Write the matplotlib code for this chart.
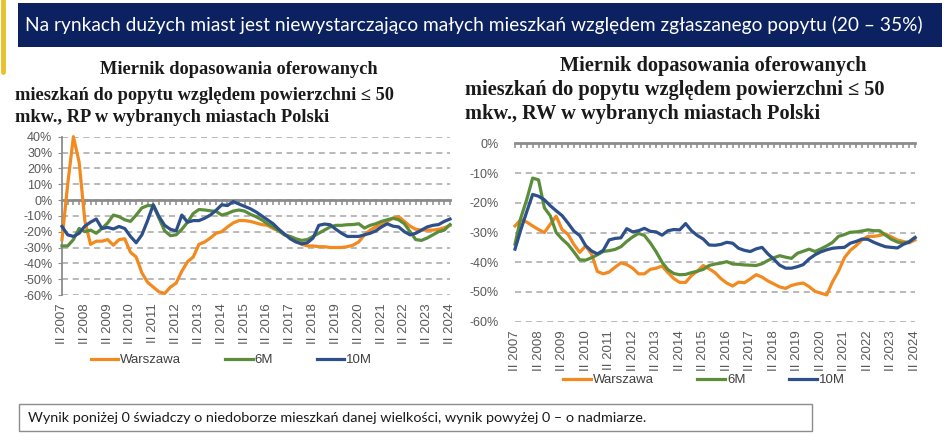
import matplotlib
matplotlib.use("Agg")
import matplotlib.pyplot as plt
from matplotlib.patches import Rectangle, FancyBboxPatch
from matplotlib.lines import Line2D
import numpy as np

W, H = 948, 445

# ---------------- data ----------------
years = list(range(2007, 2025))
tick_labels = [f"II {y}" for y in years]
series_names = ["Warszawa", "6M", "10M"]

# left chart: RP (quarterly, II 2007 .. II 2024), in %
rp_warszawa = [-25, 10, 40, 24, -13, -28, -26, -26, -25, -28.5,
               -25, -24.5, -33, -36, -46, -52, -55, -58, -59, -55,
               -52.5, -45, -39, -36, -28, -26.5, -24, -21, -20, -17,
               -14.5, -13, -13, -13.5, -14.5, -15.5, -16, -18, -19.5, -22,
               -23.5, -25, -28, -29, -29, -29.5, -29.5, -30, -30, -30,
               -29.5, -28.5, -26.5, -22, -19, -17, -15.5, -13.5, -11.5, -10.5,
               -13.5, -16.5, -18.5, -19, -19, -19, -18.5, -17.5, -16]
rp_6m = [-29, -29, -25, -18, -20, -19, -21, -18, -14.5, -9.5,
         -10.5, -12.5, -13.5, -9.5, -5, -3.5, -3.5, -11.5, -19.5, -22.5,
         -22, -18.5, -14, -8.5, -6, -6.3, -6.8, -7.2, -9.5, -8.5,
         -7, -6.3, -7, -9, -10.5, -12.5, -15, -17, -19.5, -22,
         -23, -24.5, -25.5, -25, -23, -21, -19, -17, -16, -16,
         -15.6, -15.5, -15, -17.7, -16, -15, -13.5, -12.5, -11.5, -12.5,
         -15, -20, -25, -25.5, -24, -22, -20, -19, -15.5]
rp_10m = [-16.7, -22, -23, -21, -16.5, -14, -12, -18, -17.3, -18.3,
          -16.7, -18, -23, -27, -22, -13, -3, -10.5, -16, -18.5,
          -19.5, -9.5, -14, -13, -13, -11.5, -9.5, -6.5, -3, -3.5,
          -1, -2.5, -4, -5.5, -7.5, -10, -12.5, -15, -18.5, -21.5,
          -24.5, -26.5, -27.7, -27, -24, -16, -15.2, -15.6, -18.5, -21,
          -23, -23, -23, -22, -21, -19.5, -17, -15, -16.5, -17,
          -20, -22, -21, -19, -17, -16, -15.5, -13.5, -12]

# right chart: RW, in %
rw_warszawa = [-27.8, -25.6, -26.5, -27.8, -29, -30, -27.2, -24.5, -29, -30.6,
               -34, -36.7, -34.5, -37.2, -43.1, -43.9, -43.3, -41.7, -40.2, -40.8,
               -42, -43.9, -43.9, -42.4, -42, -41.3, -43.5, -45.5, -46.8, -46.8,
               -44.5, -43, -41.1, -42.2, -43.5, -45.5, -47, -48, -46.7, -46.9,
               -45.6, -44.2, -45, -46.3, -47.3, -48.3, -48.8, -47.8, -47.3, -47,
               -48.2, -49.8, -50.4, -51, -46.5, -43, -38.5, -36, -34.4, -32.5,
               -31.3, -31.3, -31, -30.5, -31.5, -32.5, -33, -33.5, -32.5]
rw_6m = [-33.9, -25, -18.9, -11.7, -12.3, -21.7, -24.4, -30, -32.2, -34,
         -36.5, -39.2, -39.3, -38.5, -37.5, -36.4, -36.1, -35.7, -34.8, -33,
         -31.5, -30.3, -31, -33.5, -36.5, -40, -42.5, -43.8, -44.2, -44.1,
         -43.5, -43, -42.4, -41.1, -40.6, -40.3, -39.8, -40.6, -40.7, -40.9,
         -41, -41.1, -40.5, -39.4, -38.5, -37.8, -38.3, -38.7, -37, -36.3,
         -35.6, -36.4, -35.5, -34.5, -33.3, -31.3, -30.7, -29.9, -29.8, -29.5,
         -29.1, -29.4, -29.4, -30.9, -32.3, -33.2, -33.6, -33.1, -31.7]
rw_10m = [-35.6, -29, -23, -17.2, -17.8, -19, -21, -22.7, -24.3, -26.8,
          -29.5, -31, -34.4, -36.2, -37.2, -36, -32.5, -32, -31.8, -28.7,
          -29.8, -29.4, -28.6, -29.6, -29.8, -30.9, -29.4, -29, -29.1, -27,
          -29.4, -31, -32.2, -34.2, -34.3, -34, -33.3, -33.6, -35.3, -36,
          -36.4, -35.5, -35, -37.2, -39, -41, -42, -42, -41.5, -40.8,
          -38.9, -37.5, -36.5, -35.8, -35.3, -35.1, -35, -33.6, -33, -32.2,
          -32.3, -33.3, -34.1, -34.8, -35, -35.2, -34, -33.2, -31.7]

rp_yticks = list(range(-60, 41, 10))
rw_yticks = list(range(-60, 1, 10))

# ---------------- style ----------------
colors = ["#F28A1F", "#5C8D3B", "#2D4F8A"]
GRID = "#A6A6A6"
AXC = "#8C8C8C"
TXT = "#595959"
LW = 2.3

plt.rcParams["font.family"] = ["Liberation Sans", "DejaVu Sans"]

fig = plt.figure(figsize=(W / 100, H / 100), dpi=100)
fig.patch.set_facecolor("white")
renderer = fig.canvas.get_renderer()


def fx(x):
    return x / W


def fy(y):
    return 1 - y / H


def make_ax(x0, x1, ytop, ybot):
    return fig.add_axes([fx(x0), fy(ybot), fx(x1) - fx(x0), fy(ytop) - fy(ybot)])


def style_ax(ax, data, yticks, left_spine, zero_pos):
    n = len(data[0])
    x = np.arange(n)
    ax.set_xlim(0, n - 1)
    ax.set_ylim(yticks[0], yticks[-1])
    ax.set_yticks(yticks)
    ax.set_yticklabels([f"{v}%" for v in yticks])
    ax.set_xticks(np.arange(0, n, 4))
    ax.set_xticklabels(tick_labels, rotation=90)
    ax.tick_params(axis="x", length=0, pad=6, labelsize=9.5, labelcolor=TXT)
    ax.tick_params(axis="y", labelsize=9, labelcolor=TXT, color=AXC,
                   length=3 if left_spine else 0, pad=4 if left_spine else 12)
    for s in ["top", "right", "bottom"]:
        ax.spines[s].set_visible(False)
    ax.spines["left"].set_visible(left_spine)
    ax.spines["left"].set_color(AXC)
    ax.spines["left"].set_linewidth(1.3)
    ax.yaxis.grid(True, linestyle=(0, (4, 3)), color=GRID, linewidth=1.1)
    ax.set_axisbelow(True)
    ax.patch.set_alpha(0)
    # category axis crossing at 0 with quarterly tick marks
    sec = ax.secondary_xaxis(zero_pos)
    sec.set_xticks(x)
    sec.set_xticklabels([])
    sec.tick_params(direction="in", length=3.5, color=AXC, width=1.1)
    for s in sec.spines.values():
        s.set_color(AXC)
        s.set_linewidth(2.0)
    sec.set_zorder(1)
    for vals, c, nm in zip(data, colors, series_names):
        ax.plot(x, vals, color=c, lw=LW, label=nm, zorder=3,
                solid_joinstyle="round", clip_on=False)


ax1 = make_ax(62, 450, 136.7, 295)
style_ax(ax1, [rp_warszawa, rp_6m, rp_10m], rp_yticks, True,
         (0 - rp_yticks[0]) / (rp_yticks[-1] - rp_yticks[0]))

ax2 = make_ax(515, 915, 143.3, 321.7)
style_ax(ax2, [rw_warszawa, rw_6m, rw_10m], rw_yticks, False, "top")

# legends
handles = [Line2D([], [], color=c, lw=LW) for c in colors]
for cx, cy in [(231.5, 360), (704, 380)]:
    fig.legend(handles, series_names, loc="center", bbox_to_anchor=(fx(cx), fy(cy)),
               ncol=3, frameon=False, fontsize=9.5, handlelength=2.1,
               handletextpad=0.15, columnspacing=3.3, labelcolor="#404040")


# ---------------- texts and decorations ----------------
def fit_text(x0, x1, y, s, base=12, **kw):
    t = fig.text(fx(x0), fy(y), s, fontsize=base, ha="left", va="center", **kw)
    w = t.get_window_extent(renderer).width
    t.set_fontsize(base * (x1 - x0) / w)
    return t


# banner
fig.add_artist(Rectangle((fx(18), fy(47)), fx(942) - fx(18), fy(3) - fy(47),
                         transform=fig.transFigure, facecolor="#0C2160",
                         edgecolor="none", zorder=0))
fit_text(25, 921, 25, "Na rynkach dużych miast jest niewystarczająco małych mieszkań "
         "względem zgłaszanego popytu (20 – 35%)", family=["Lato", "DejaVu Sans"],
         color="white")

# yellow accent on left edge
fig.add_artist(Line2D([fx(2.5), fx(2.5)], [fy(0), fy(72)], transform=fig.transFigure,
                      color="#E8C22C", lw=3.5, solid_capstyle="round"))

# chart titles
serif = ["Liberation Serif", "DejaVu Serif"]
titles = [
    ("Miernik dopasowania oferowanych",
     "mieszkań do popytu względem powierzchni ≤ 50",
     "mkw., RP w wybranych miastach Polski",
     100, 15, 390, (70, 95, 118)),
    ("Miernik dopasowania oferowanych",
     "mieszkań do popytu względem powierzchni ≤ 50",
     "mkw., RW w wybranych miastach Polski",
     560, 465, 882, (66, 90, 114)),
]
for l1, l2, l3, x1s, xs, xe, ys in titles:
    t2 = fit_text(xs, xe, ys[1], l2, family=serif, weight="bold", color="#1a1a1a")
    fs = t2.get_fontsize()
    fig.text(fx(x1s), fy(ys[0]), l1, family=serif, weight="bold", fontsize=fs,
             ha="left", va="center", color="#1a1a1a")
    fig.text(fx(xs), fy(ys[2]), l3, family=serif, weight="bold", fontsize=fs,
             ha="left", va="center", color="#1a1a1a")

# footer box
fig.add_artist(Rectangle((fx(19), fy(431)), fx(812) - fx(19), fy(404) - fy(431),
                         transform=fig.transFigure, facecolor="white",
                         edgecolor="#8C8C8C", lw=1.0))
fit_text(28, 648, 418, "Wynik poniżej 0 świadczy o niedoborze mieszkań danej wielkości, "
         "wynik powyżej 0 – o nadmiarze.", family=["Lato", "DejaVu Sans"],
         color="#1a1a1a")

fig.savefig("out.png", dpi=100, facecolor="white")
